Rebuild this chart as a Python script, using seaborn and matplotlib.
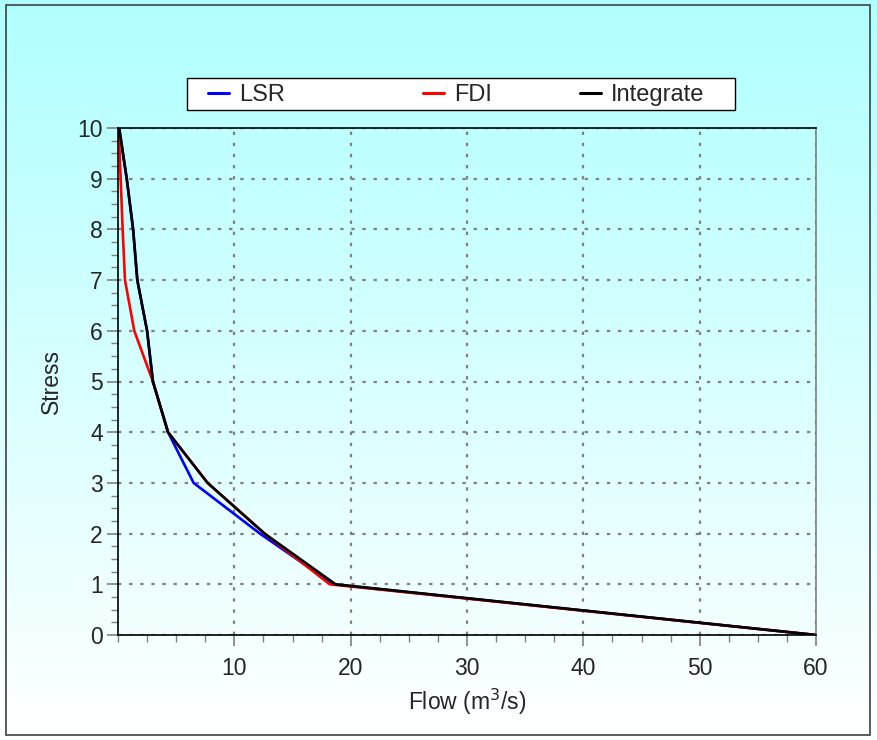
import numpy as np
import matplotlib
matplotlib.use("Agg")
import matplotlib.pyplot as plt
from matplotlib.patches import Rectangle
from matplotlib.ticker import MultipleLocator
import seaborn as sns

# values
stress = [10, 9, 8, 7, 6, 5, 4, 3, 2, 1, 0]
lsr_flow = [0.1, 0.75, 1.3, 1.66, 2.5, 3.0, 4.3, 6.5, 12.2, 18.5, 60]
fdi_flow = [0.05, 0.23, 0.4, 0.6, 1.4, 3.0, 4.3, 7.7, 12.6, 18.2, 60]
int_flow = [0.1, 0.75, 1.3, 1.66, 2.5, 3.0, 4.3, 7.7, 12.6, 18.7, 60]
series = ["LSR", "FDI", "Integrate"]
colors = ["#0000ff", "#ff0000", "#000000"]

sns.set_style("white")
plt.rcParams["font.family"] = ["Liberation Sans", "DejaVu Sans"]

W, H = 877, 740
fig = plt.figure(figsize=(W / 100, H / 100), dpi=100)

# background gradient cyan -> white
bg = fig.add_axes([0, 0, 1, 1], zorder=-10)
grad = np.linspace(0, 1, 256).reshape(-1, 1)
top = np.array([176, 255, 255]) / 255
bot = np.array([255, 255, 255]) / 255
img = top + (bot - top) * grad[..., None]
bg.imshow(img, aspect="auto", extent=[0, 1, 0, 1], origin="upper")
bg.set_axis_off()

# outer border and legend frame
fig.patches.append(Rectangle((6 / W, 5 / H), 864 / W, 730 / H,
                             transform=fig.transFigure, fill=False,
                             edgecolor="#404040", linewidth=1.2, zorder=-5))
fig.patches.append(Rectangle((187 / W, 1 - 110 / H), (735 - 187) / W, 32 / H,
                             transform=fig.transFigure, facecolor="white",
                             edgecolor="black", linewidth=1.0, zorder=-5))

ax = fig.add_axes([118 / W, 1 - 635 / H, (816 - 118) / W, (635 - 128) / H])
ax.patch.set_alpha(0)

for name, flow, c in zip(series, [lsr_flow, fdi_flow, int_flow], colors):
    sns.lineplot(x=flow, y=stress, sort=False, estimator=None, color=c,
                 linewidth=1.9, label=name, ax=ax)

ax.set_xlim(0, 60)
ax.set_ylim(0, 10)
ax.set_xticks([10, 20, 30, 40, 50, 60])
ax.set_yticks(range(0, 11))
ax.xaxis.set_minor_locator(MultipleLocator(2.5))
ax.yaxis.set_minor_locator(MultipleLocator(0.25))
ax.tick_params(axis="both", which="major", direction="out", length=8,
               width=1.2, color="#808080", labelsize=16.5)
ax.tick_params(axis="x", which="major", pad=8)
ax.tick_params(axis="y", which="major", pad=3)
ax.tick_params(axis="both", which="minor", direction="out", length=5,
               width=1.0, color="#808080")
ax.tick_params(axis="x", bottom=True, which="both")
ax.tick_params(axis="y", left=True, which="both")

ax.grid(True, which="major", color="#808080", linestyle=(0, (1.5, 3.5)),
        linewidth=1.6)
ax.set_axisbelow(True)

for s in ["left", "top", "bottom"]:
    ax.spines[s].set_color("#000000")
    ax.spines[s].set_linewidth(1.2)
ax.spines["right"].set_color("#808080")
ax.spines["right"].set_linewidth(1.2)

ax.set_xlabel("Flow (m$^3$/s)", fontsize=16.5, labelpad=5)
ax.set_ylabel("Stress", fontsize=16.5, labelpad=10)

# one legend entry per series, spread across the top frame
handles, labels = ax.get_legend_handles_labels()
ax.get_legend().remove()
entry_x = [208, 423, 580]
for h, l, x in zip(handles, labels, entry_x):
    leg = fig.legend([h], [l], loc="center left",
                     bbox_to_anchor=(x / W, 1 - 95 / H),
                     bbox_transform=fig.transFigure, frameon=False,
                     handlelength=0.9, handletextpad=0.4, fontsize=17,
                     borderaxespad=0, borderpad=0)
    for line in leg.get_lines():
        line.set_linewidth(2.2)

fig.savefig("out.png", dpi=100)
